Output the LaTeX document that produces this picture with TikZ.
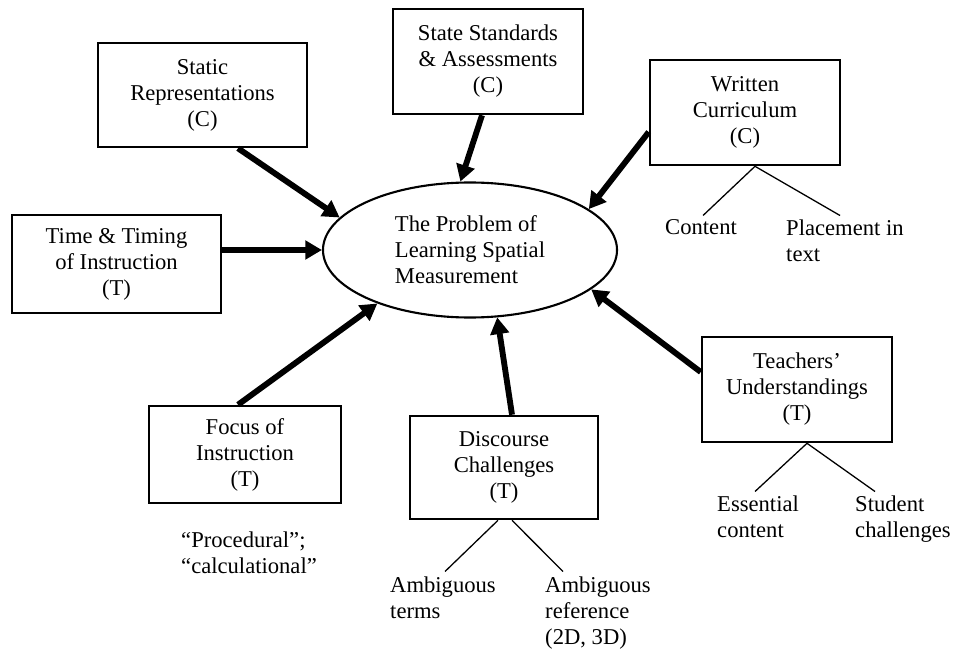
\documentclass[tikz,border=0pt]{standalone}
\usepackage{fontspec}
\setmainfont{Liberation Serif}
\usetikzlibrary{shapes.geometric,arrows.meta,positioning,calc}
\tikzset{
    % Sharp-cornered factor boxes
    factor/.style={
        rectangle,
        draw=black,
        line width=2.2pt,
        fill=white,
        minimum width=5.7cm,
        minimum height=3.15cm,
        inner sep=0pt,
        align=center,
        font=\fontsize{19.3}{22.2}\selectfont
    },
    problem/.style={
        ellipse,
        draw=black,
        line width=1.8pt,
        minimum width=8.82cm,
        minimum height=4.05cm,
        inner sep=0pt,
        align=left,
        font=\fontsize{19.3}{22.2}\selectfont
    },
    influence/.style={
        -{Triangle[length=0.5cm,width=0.55cm]},
        line width=5pt,
        color=black
    },
    branch/.style={
        line width=1.1pt,
        color=black
    },
    detail/.style={
        anchor=north west,
        inner sep=0pt,
        align=left,
        font=\fontsize{19.3}{22.2}\selectfont
    }
}

\begin{document}
\begin{tikzpicture}[x=0.03cm, y=-0.03cm]
        \useasboundingbox (0,0) rectangle (955,649);

        % Central problem
        \node[problem] (problem) at (470,250) {The Problem of\\Learning Spatial\\Measurement\hspace*{0.35cm}};

        % Curriculum factors
        \node[factor, minimum width=6.27cm, minimum height=3.12cm] (static) at (202.5,95) {Static\\Representations\\(C)};
        \node[factor] (state) at (488,61.5) {State Standards\\\& Assessments\\(C)};
        \node[factor] (written) at (745,112.5) {Written\\Curriculum\\(C)};

        % Teaching factors
        \node[factor, minimum width=6.27cm, minimum height=2.94cm] (time) at (116.5,264) {Time \& Timing\\of Instruction\\(T)};
        \node[factor, minimum width=5.76cm, minimum height=2.91cm] (focus) at (245,454.5) {Focus of\\Instruction\\(T)};
        \node[factor, minimum width=5.64cm, minimum height=3.09cm] (discourse) at (504,467.5) {Discourse\\Challenges\\(T)};
        \node[factor] (teachers) at (797,389.5) {Teachers'\\Understandings\\(T)};

        % Details
        \node[detail] (content) at (665,219.5) {Content};
        \node[detail] (placement) at (786,219.5) {Placement in\\text};
        \node[detail] (procedural) at (181,531.5) {``Procedural'';\\``calculational''};
        \node[detail] (terms) at (390,576.5) {Ambiguous\\terms};
        \node[detail] (reference) at (545,576.5) {Ambiguous\\reference\\(2D, 3D)};
        \node[detail] (essential) at (717,495.5) {Essential\\content};
        \node[detail] (student) at (855,495.5) {Student\\challenges};

        % Arrows
        \draw[influence] ($(static.south)+(35.5,0)$) -- (problem.166);
        \draw[influence] ($(state.south)+(-6,0)$) -- (problem.98);
        \draw[influence] ($(written.west)+(0,19.5)$) -- (problem.19);
        \draw[influence] ($(time.east)+(0,-14)$) -- (problem.180);
        \draw[influence] ($(focus.north)+(-7,0)$) -- (problem.210);
        \draw[influence] ($(discourse.north)+(8,0)$) -- (problem.292);
        \draw[influence] ($(teachers.west)+(0,-17.5)$) -- (problem.342);

        % Branches
        \coordinate (wsplit) at ($(written.south)+(10,0)$);
        \coordinate (tsplit) at ($(teachers.south)+(10,0)$);
        \draw[branch] (wsplit) -- ($(content.north)+(2,-4)$);
        \draw[branch] (wsplit) -- ($(placement.north west)+(54,-4)$);
        \draw[branch] ($(discourse.south)+(-6,0)$) -- ($(terms.north west)+(55,-5)$);
        \draw[branch] ($(discourse.south)+(8,0)$) -- ($(reference.north west)+(18,-5)$);
        \draw[branch] (tsplit) -- ($(essential.north west)+(38,-4)$);
        \draw[branch] (tsplit) -- ($(student.north west)+(20,-4)$);
    \end{tikzpicture}
\end{document}
